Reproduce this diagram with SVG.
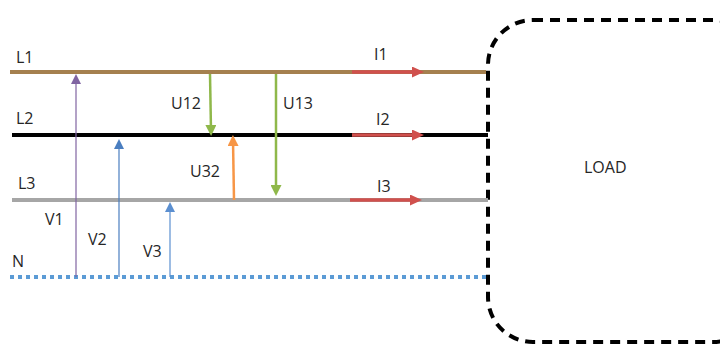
<svg xmlns="http://www.w3.org/2000/svg" width="720" height="345" viewBox="0 0 720 345">
<defs>
<style>
text{font-family:"Open Sans","Liberation Sans",sans-serif;font-size:16px;fill:#262626}
.thin{stroke-width:1.2;fill:none}
.thick{stroke-width:2.5;fill:none}
</style>
<marker id="hp" markerWidth="10" markerHeight="10" refX="5" refY="5" orient="auto" markerUnits="userSpaceOnUse"><path d="M0,0 L10,5 L0,10 z" fill="#8064A2"/></marker>
<marker id="hb" markerWidth="10" markerHeight="10" refX="5" refY="5" orient="auto" markerUnits="userSpaceOnUse"><path d="M0,0 L10,5 L0,10 z" fill="#4A7EC0"/></marker>
<marker id="hb2" markerWidth="10" markerHeight="10" refX="5" refY="5" orient="auto" markerUnits="userSpaceOnUse"><path d="M0,0 L10,5 L0,10 z" fill="#5B8FD0"/></marker>
<marker id="hg" markerWidth="11" markerHeight="11" refX="6" refY="5.5" orient="auto" markerUnits="userSpaceOnUse"><path d="M0,0 L11,5.5 L0,11 z" fill="#8FB84A"/></marker>
<marker id="ho" markerWidth="11" markerHeight="11" refX="6" refY="5.5" orient="auto" markerUnits="userSpaceOnUse"><path d="M0,0 L11,5.5 L0,11 z" fill="#F79646"/></marker>
<marker id="hr" markerWidth="12" markerHeight="11" refX="6" refY="5.5" orient="auto" markerUnits="userSpaceOnUse"><path d="M0,0 L12,5.5 L0,11 z" fill="#D0504D"/></marker>
</defs>
<g id="load">
<rect x="488" y="20" width="270" height="322" rx="45" ry="45" fill="none" stroke="#000" stroke-width="4" stroke-dasharray="10 7"/>
<text x="584" y="173">LOAD</text>
</g>
<g id="lines">
<line id="L1" x1="10" y1="72" x2="486" y2="72" stroke="#A5804F" stroke-width="4"/>
<line id="L2" x1="12" y1="135" x2="488" y2="135" stroke="#000" stroke-width="4"/>
<line id="L3" x1="12" y1="200" x2="488" y2="200" stroke="#A6A6A6" stroke-width="4"/>
<line id="N" x1="10" y1="277" x2="486" y2="277" stroke="#5B9BD5" stroke-width="4" stroke-dasharray="4 4"/>
</g>
<g id="labels">
<text x="16" y="63">L1</text>
<text x="16" y="124">L2</text>
<text x="18" y="189">L3</text>
<text x="12" y="267">N</text>
</g>
<g id="connectors">
<line class="thin" x1="76" y1="277" x2="76" y2="79" stroke="#8064A2" marker-end="url(#hp)"/>
<line class="thin" x1="119" y1="277" x2="119" y2="144" stroke="#4A7EC0" marker-end="url(#hb)"/>
<line class="thin" x1="170" y1="277" x2="170" y2="207" stroke="#5B8FD0" marker-end="url(#hb2)"/>
<line class="thick" x1="210" y1="74" x2="211" y2="131" stroke="#8FB84A" marker-end="url(#hg)"/>
<line class="thick" x1="276" y1="74" x2="276" y2="191" stroke="#8FB84A" marker-end="url(#hg)"/>
<line class="thick" x1="234" y1="200" x2="233" y2="140" stroke="#F79646" marker-end="url(#ho)"/>
<line x1="352" y1="72" x2="418" y2="72" stroke="#D0504D" stroke-width="3.5" marker-end="url(#hr)"/>
<line x1="352" y1="135" x2="418" y2="135" stroke="#D0504D" stroke-width="3.5" marker-end="url(#hr)"/>
<line x1="350" y1="200" x2="416" y2="200" stroke="#D0504D" stroke-width="3.5" marker-end="url(#hr)"/>
</g>
<g id="arrow-labels">
<text x="374" y="60">I1</text>
<text x="376" y="125">I2</text>
<text x="377" y="192">I3</text>
<text x="171" y="109">U12</text>
<text x="283" y="109">U13</text>
<text x="190" y="177">U32</text>
<text x="45" y="225">V1</text>
<text x="88" y="245">V2</text>
<text x="143" y="257">V3</text>
</g>
</svg>
